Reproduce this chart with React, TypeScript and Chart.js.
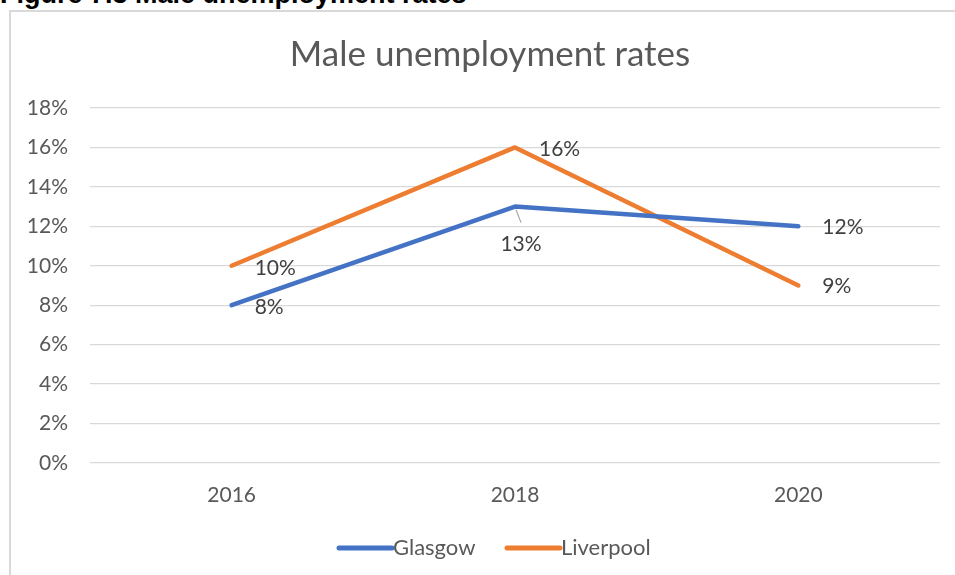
import React, { useEffect, useRef } from "react";
import { Chart, registerables } from "chart.js";

Chart.register(...registerables);

const years = ["2016", "2018", "2020"];
const glasgow = [8, 13, 12];
const liverpool = [10, 16, 9];
const yTicks = [0, 2, 4, 6, 8, 10, 12, 14, 16, 18];
const chartTitle = "Male unemployment rates";
const figureHeading = "Figure 7.3 Male unemployment rates";
const seriesNames = ["Glasgow", "Liverpool"];

const BLUE = "#4472C4";
const ORANGE = "#ED7D31";
const TEXT = "#595959";
const LABEL = "#404040";
const FONT = "Lato, 'Open Sans', sans-serif";

const labelOffsets = [
  [
    { dx: 23, dy: 2, align: "left" },
    { dx: 6, dy: 38, align: "center", leader: true },
    { dx: 24, dy: 1, align: "left" },
  ],
  [
    { dx: 23, dy: 2, align: "left" },
    { dx: 24, dy: 2, align: "left" },
    { dx: 24, dy: 1, align: "left" },
  ],
];

const overlayPlugin = {
  id: "overlay",
  afterDatasetsDraw(chart: any) {
    const ctx = chart.ctx;
    ctx.save();
    // data labels
    ctx.font = `21px ${FONT}`;
    ctx.fillStyle = LABEL;
    ctx.textBaseline = "middle";
    chart.data.datasets.forEach((ds: any, di: number) => {
      const meta = chart.getDatasetMeta(di);
      meta.data.forEach((pt: any, i: number) => {
        const o: any = labelOffsets[di][i];
        if (o.leader) {
          ctx.strokeStyle = "#A6A6A6";
          ctx.lineWidth = 1.2;
          ctx.beginPath();
          ctx.moveTo(pt.x + 1, pt.y + 3);
          ctx.lineTo(pt.x + 6, pt.y + 16);
          ctx.stroke();
        }
        ctx.textAlign = o.align;
        ctx.fillText(ds.data[i] + "%", pt.x + o.dx, pt.y + o.dy);
      });
    });
    // title
    ctx.font = `35px ${FONT}`;
    ctx.fillStyle = TEXT;
    ctx.textAlign = "center";
    ctx.fillText(chartTitle, 480, 45);
    // legend
    ctx.font = `22px ${FONT}`;
    ctx.textAlign = "left";
    const items = [
      { name: seriesNames[0], color: BLUE, x: 327 },
      { name: seriesNames[1], color: ORANGE, x: 495 },
    ];
    items.forEach((it) => {
      ctx.strokeStyle = it.color;
      ctx.lineWidth = 5;
      ctx.lineCap = "round";
      ctx.beginPath();
      ctx.moveTo(it.x + 2, 538);
      ctx.lineTo(it.x + 55, 538);
      ctx.stroke();
      ctx.fillStyle = TEXT;
      ctx.fillText(it.name, it.x + 56, 538);
    });
    ctx.restore();
  },
};

export default function App() {
  const ref = useRef<HTMLCanvasElement>(null);
  useEffect(() => {
    if (!ref.current) return;
    const chart = new Chart(ref.current, {
      type: "line",
      data: {
        labels: years,
        datasets: [
          {
            label: seriesNames[0],
            data: glasgow,
            borderColor: BLUE,
            backgroundColor: BLUE,
            borderWidth: 4.5,
            pointRadius: 0,
            borderCapStyle: "round",
            borderJoinStyle: "round",
            tension: 0,
          },
          {
            label: seriesNames[1],
            data: liverpool,
            borderColor: ORANGE,
            backgroundColor: ORANGE,
            borderWidth: 4.5,
            pointRadius: 0,
            borderCapStyle: "round",
            borderJoinStyle: "round",
            tension: 0,
          },
        ],
      },
      options: {
        animation: false,
        responsive: false,
        devicePixelRatio: 1,
        layout: { padding: { top: 98, right: 15, left: 0, bottom: 0 } },
        plugins: {
          legend: { display: false },
          title: { display: false },
          tooltip: { enabled: false },
        },
        scales: {
          x: {
            offset: true,
            grid: { display: false, drawTicks: false },
            border: { display: false },
            ticks: {
              color: TEXT,
              font: { family: FONT, size: 21 },
              padding: 20,
            },
            afterFit(axis: any) {
              axis.height = 112;
            },
          },
          y: {
            min: 0,
            max: 18,
            afterBuildTicks(axis: any) {
              axis.ticks = yTicks.map((v) => ({ value: v }));
            },
            grid: { color: "#D9D9D9", lineWidth: 1.3, drawTicks: false },
            border: { display: false },
            ticks: {
              color: TEXT,
              font: { family: FONT, size: 21 },
              padding: 22,
              callback: (v: any) => v + "%",
            },
            afterFit(axis: any) {
              axis.width = 80;
            },
          },
        },
      },
      plugins: [overlayPlugin],
    } as any);
    return () => chart.destroy();
  }, []);

  return (
    <div style={{ position: "absolute", left: 0, top: 0, width: 955, height: 575, overflow: "hidden", background: "#fff" }}>
      <div
        style={{
          position: "absolute",
          left: 0,
          top: -21,
          fontFamily: "'Liberation Sans', Arial, sans-serif",
          fontWeight: "bold",
          fontSize: 27,
          lineHeight: "31px",
          color: "#000",
          whiteSpace: "nowrap",
        }}
      >
        {figureHeading}
      </div>
      <div
        style={{
          position: "absolute",
          left: 9,
          top: 10,
          width: 960,
          height: 580,
          border: "2px solid #D9D9D9",
          boxSizing: "border-box",
        }}
      />
      <canvas
        ref={ref}
        width={945}
        height={565}
        style={{ position: "absolute", left: 10, top: 10, width: 945, height: 565 }}
      />
    </div>
  );
}
